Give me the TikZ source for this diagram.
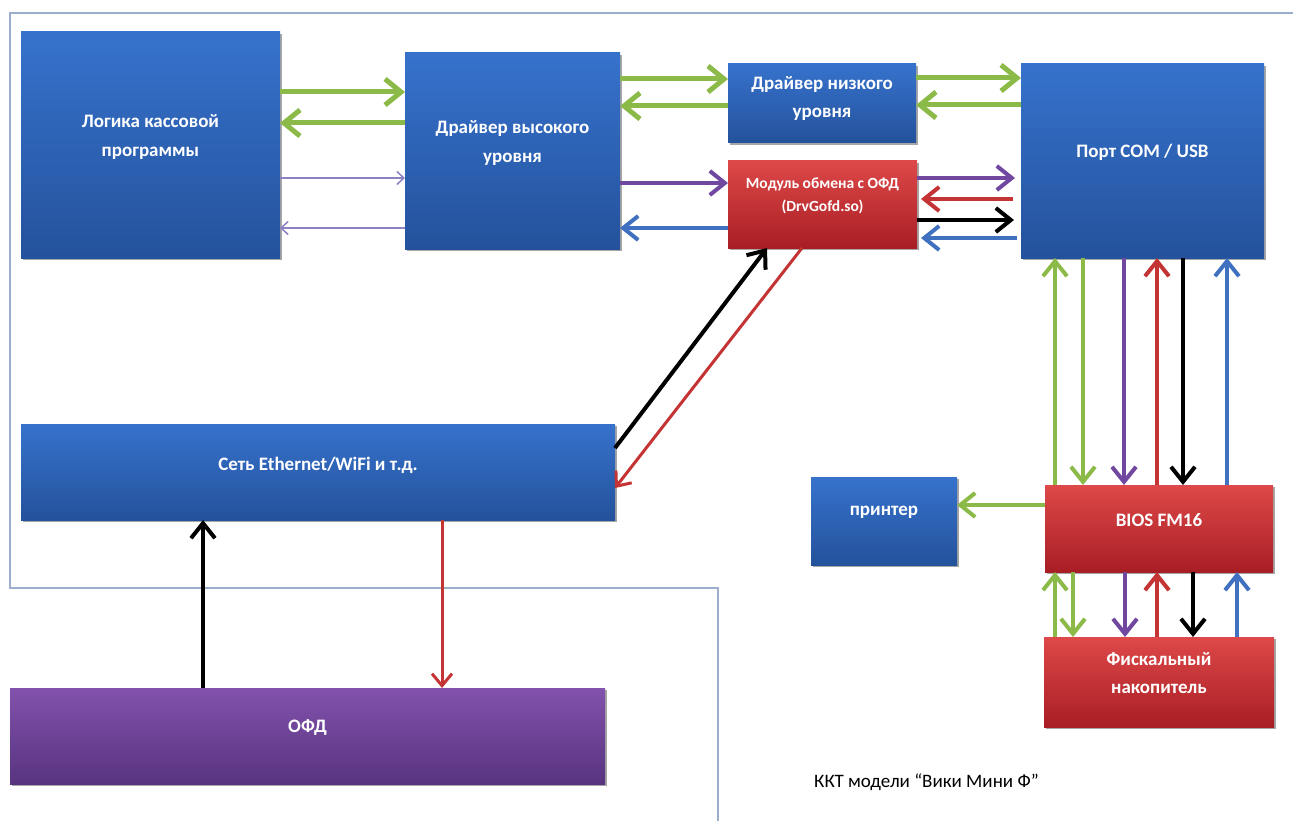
\documentclass[tikz,border=0pt]{standalone}
\usepackage{fontspec}
\setmainfont{Carlito}
\usetikzlibrary{arrows.meta,shadows,calc}
\definecolor{gr}{RGB}{140,186,72}
\definecolor{pu}{RGB}{112,72,160}
\definecolor{rd}{RGB}{196,52,52}
\definecolor{bl}{RGB}{64,112,192}
\definecolor{thinc}{RGB}{140,130,195}
\definecolor{framec}{RGB}{155,175,205}
\definecolor{bxtop}{RGB}{54,114,204}
\definecolor{bxbot}{RGB}{36,82,156}
\definecolor{rdtop}{RGB}{222,72,72}
\definecolor{rdbot}{RGB}{168,30,36}
\definecolor{putop}{RGB}{130,82,172}
\definecolor{pubot}{RGB}{88,52,128}
\begin{document}
\begin{tikzpicture}[x=1pt,y=-1pt,
  box/.style={draw=none,inner sep=0pt,outer sep=0pt,
    drop shadow={shadow xshift=2pt,shadow yshift=-2pt,opacity=0.35,fill=black}},
  bluebox/.style={box,top color=bxtop,bottom color=bxbot},
  redbox/.style={box,top color=rdtop,bottom color=rdbot},
  purplebox/.style={box,top color=putop,bottom color=pubot},
  txt/.style={text=white,font=\bfseries\fontsize{19}{28.5}\selectfont,align=center,inner sep=0pt},
  smalltxt/.style={txt,font=\bfseries\fontsize{15.5}{23}\selectfont},
  arr/.style={line width=4pt,-{Straight Barb[length=15pt,width=24pt]}},
  fatarr/.style={line width=5pt,-{Straight Barb[length=16pt,width=26pt]}},
  thinarr/.style={line width=1.5pt,-{Straight Barb[length=7pt,width=13pt]}},
  redarr/.style={line width=3pt,-{Straight Barb[length=12pt,width=20pt]}}
]
\fill[white] (0,0) rectangle (1301,821);
\useasboundingbox (0,0) rectangle (1301,821);
% frame
\draw[framec,line width=1.5pt] (1293,13) -- (10,13) -- (10,588) -- (718,588) -- (718,821);

% boxes
\node[bluebox,minimum width=259,minimum height=226] (logic) at (150.5,145) {};
\node[bluebox,minimum width=215,minimum height=196] (hd) at (512.5,151) {};
\node[bluebox,minimum width=188,minimum height=79] (ld) at (822,103.5) {};
\node[redbox,minimum width=189,minimum height=87] (mod) at (822.5,204.5) {};
\node[bluebox,minimum width=243,minimum height=194] (port) at (1142.5,161) {};
\node[bluebox,minimum width=594,minimum height=96] (net) at (318,472) {};
\node[purplebox,minimum width=595,minimum height=96] (ofd) at (307.5,736) {};
\node[bluebox,minimum width=146,minimum height=88] (printer) at (884,521) {};
\node[redbox,minimum width=228,minimum height=87] (bios) at (1159,528.5) {};
\node[redbox,minimum width=230,minimum height=90] (fn) at (1159,682) {};

% texts
\node[txt] (logicT) at ([yshift=8pt]logic.center) {Логика кассовой\\программы};
\node[txt] (hdT) at ([yshift=8pt]hd.center) {Драйвер высокого\\уровня};
\node[txt] (ldT) at ([yshift=5pt]ld.center) {Драйвер низкого\\уровня};
\node[smalltxt] (modT) at ([yshift=9pt]mod.center) {Модуль обмена с ОФД\\(DrvGofd.so)};
\node[txt] (portT) at ([yshift=9pt]port.center) {Порт COM / USB};
\node[txt] (netT) at ([yshift=7pt]net.center) {Сеть Ethernet/WiFi и т.д.};
\node[txt] (ofdT) at ([yshift=8pt]ofd.center) {ОФД};
\node[txt] (printerT) at ([yshift=9pt]printer.center) {принтер};
\node[txt] (biosT) at ([yshift=8pt]bios.center) {BIOS FM16};
\node[txt] (fnT) at ([yshift=9pt]fn.center) {Фискальный\\накопитель};
\node[anchor=west,inner sep=0pt,font=\fontsize{19}{22}\selectfont] (cap) at (814,782) {ККТ модели “Вики Мини Ф”};

% helper levels
\foreach \v in {78,79,92,105,106,123,178,183,199,220,228,238,448,488,505}
  \coordinate (y\v) at (0,\v);
\foreach \v in {203,442,767,802,1055,1073,1083,1124,1125,1157,1183,1193,1227,1237}
  \coordinate (x\v) at (\v,0);

% logic <-> high driver
\draw[fatarr,gr] (logic.east |- y92) -- (hd.west |- y92);
\draw[fatarr,gr] (hd.west |- y123) -- (logic.east |- y123);
\draw[thinarr,thinc] (logic.east |- y178) -- (hd.west |- y178);
\draw[thinarr,thinc] (hd.west |- y228) -- (logic.east |- y228);
% high driver <-> low driver
\draw[fatarr,gr] (hd.east |- y79) -- (ld.west |- y79);
\draw[fatarr,gr] (ld.west |- y106) -- (hd.east |- y106);
% low driver <-> port
\draw[fatarr,gr] (ld.east |- y78) -- (port.west |- y78);
\draw[fatarr,gr] (port.west |- y105) -- (ld.east |- y105);
% high driver <-> module
\draw[arr,pu] (hd.east |- y183) -- (mod.west |- y183);
\draw[arr,bl] (mod.west |- y228) -- (hd.east |- y228);
% module <-> port
\draw[arr,pu,shorten >=6pt] (mod.east |- y178) -- (port.west |- y178);
\draw[arr,rd,shorten <=8pt,shorten >=4pt] (port.west |- y199) -- (mod.east |- y199);
\draw[arr,black,shorten >=7pt] (mod.east |- y220) -- (port.west |- y220);
\draw[arr,bl,shorten <=4pt,shorten >=4pt] (port.west |- y238) -- (mod.east |- y238);
% module <-> network
\draw[arr,black] (net.east |- y448) -- (mod.south -| x767);
\draw[redarr,rd] (mod.south -| x802) -- (net.east |- y488);
% network <-> ofd
\draw[redarr,rd] (net.south -| x442) -- (ofd.north -| x442);
\draw[arr,black] (ofd.north -| x203) -- (net.south -| x203);
% port <-> bios
\draw[arr,gr] (bios.north -| x1055) -- (port.south -| x1055);
\draw[arr,gr] (port.south -| x1083) -- (bios.north -| x1083);
\draw[arr,pu] (port.south -| x1124) -- (bios.north -| x1124);
\draw[arr,rd] (bios.north -| x1157) -- (port.south -| x1157);
\draw[arr,black] (port.south -| x1183) -- (bios.north -| x1183);
\draw[arr,bl] (bios.north -| x1227) -- (port.south -| x1227);
% bios <-> fn
\draw[arr,gr] (fn.north -| x1055) -- (bios.south -| x1055);
\draw[arr,gr] (bios.south -| x1073) -- (fn.north -| x1073);
\draw[arr,pu] (bios.south -| x1125) -- (fn.north -| x1125);
\draw[arr,rd] (fn.north -| x1157) -- (bios.south -| x1157);
\draw[arr,black] (bios.south -| x1193) -- (fn.north -| x1193);
\draw[arr,bl] (fn.north -| x1237) -- (bios.south -| x1237);
% bios -> printer
\draw[arr,gr] (bios.west |- y505) -- (printer.east |- y505);
\end{tikzpicture}
\end{document}
